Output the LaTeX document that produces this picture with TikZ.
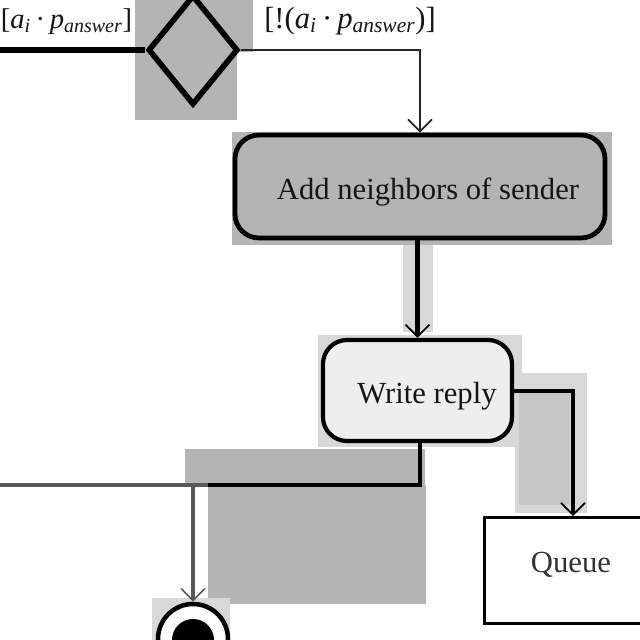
\documentclass[tikz,border=0pt]{standalone}
\usepackage{fontspec}
\setmainfont{Liberation Serif}
\usetikzlibrary{shapes.geometric,arrows.meta}
\definecolor{bgA}{HTML}{B4B4B4}
\definecolor{bgB}{HTML}{D8D8D8}
\definecolor{bgC}{HTML}{C6C6C6}
\definecolor{boxfill}{HTML}{EEEEEE}
\definecolor{ink}{HTML}{151515}
\tikzset{
  bigtxt/.style={font=\fontsize{21.8}{24}\selectfont, text=ink},
  guardtxt/.style={font=\fontsize{20.3}{24}\selectfont, text=ink, inner sep=0pt},
  actbox/.style={draw=black, rounded corners=0.6cm, line width=3.4pt},
  flow/.style={draw=black, -{Straight Barb[length=0.3cm,width=0.6cm,line width=1.2pt]}},
}
\newcommand{\ansub}{\textsubscript{\itshape answer}}
\begin{document}
\begin{tikzpicture}[x=0.025cm,y=-0.025cm]
\useasboundingbox (0,0) rectangle (640,640);
\fill[white] (0,0) rectangle (640,640);
% background grey patches
\fill[bgA] (135,0) rectangle (237,120);
\fill[bgA] (237,0) rectangle (253,52);
\fill[bgA] (232,132) rectangle (612,245);
\fill[bgB] (403,245) rectangle (433,332);
\fill[bgB] (318,335) rectangle (522,447);
\fill[bgB] (515,373) rectangle (587,513);
\fill[bgC] (519,390) rectangle (570,505);
\fill[bgA] (185,449) rectangle (425,485);
\fill[bgA] (208,485) rectangle (426,604);
\fill[bgB] (152,598) rectangle (230,640);
% guard labels
\node[guardtxt, anchor=base west] (lblL) at (0.5,28)
  {[\textit{a}\textsubscript{\itshape i}\,·\,\textit{p}\ansub]};
\node[bigtxt, anchor=base west, inner sep=0pt] (lblR) at (264,28)
  {[!(\textit{a}\textsubscript{\itshape i}\,·\,\textit{p}\ansub)]};
% decision diamond
\node[diamond, draw=black, fill=bgA, line width=4pt, minimum width=2.25cm,
      minimum height=2.75cm, inner sep=0pt] (dec) at (193,50) {};
% action boxes
\node[actbox, fill=bgA, minimum width=9.25cm, minimum height=2.575cm] (add) at (420,186.5) {};
\node[bigtxt] (addtxt) at (428,192) {Add neighbors of sender};
\node[actbox, fill=boxfill, line width=3pt, minimum width=4.725cm, minimum height=2.525cm] (wr) at (417.5,390.5) {};
\node[bigtxt] (wrtxt) at (427,396) {Write reply};
% queue object
\node[draw=black, line width=2.2pt, fill=white, minimum width=4.5cm, minimum height=2.65cm, anchor=north west] (queue) at (483,516) {};
\node[bigtxt, text=black!80] (qtxt) at (571,565) {Queue};
% final node
\node[circle, draw=black, line width=3.2pt, fill=white, minimum size=1.75cm, inner sep=0pt] (final) at (193,639) {};
\node[circle, fill=black, minimum size=1.05cm, inner sep=0pt] (finalin) at (193,640) {};
% connectors
\coordinate (inL) at (0,50);
\coordinate (c1) at (420,50);
\coordinate (c2) at (573,391);
\coordinate (c3) at (420,485);
\coordinate (c4) at (208,485);
\coordinate (outL) at (0,485);
\coordinate (br) at (193,485);
\draw[line width=4.5pt, black] (inL) -- (dec.west);
\draw[flow, line width=1.6pt, draw=black!85] (dec.east) -- (c1) -- (add.north -| c1);
\draw[flow, line width=3pt] (add.south -| wr.north) -- (wr.north);
\draw[flow, line width=3pt] (wr.east |- c2) -- (c2) -- (queue.north -| c2);
\draw[line width=2.6pt, black] (wr.south -| c3) -- (c3) -- (c4);
\draw[line width=2.4pt, black!65] (c4) -- (outL);
\draw[flow, line width=2.4pt, draw=black!65] (br) -- (final.north);
\end{tikzpicture}
\end{document}
